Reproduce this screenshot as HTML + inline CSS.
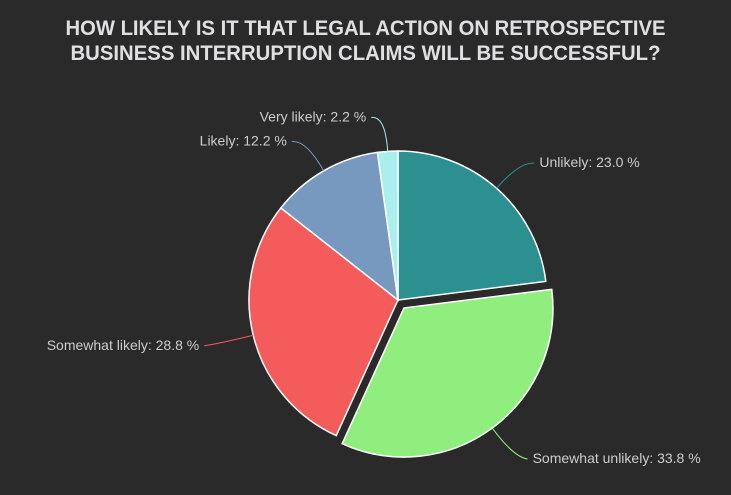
<!DOCTYPE html>
<html><head><meta charset="utf-8"><style>
html,body{margin:0;padding:0;background:#2a2a2b;}
svg{display:block;font-family:"Liberation Sans",sans-serif;}
</style></head><body>
<svg id="chart" width="731" height="495" viewBox="0 0 731 495">
<rect width="731" height="495" fill="#2a2a2b"/>
<text x="365.5" y="35" text-anchor="middle" fill="#E0E0E3" font-size="21" font-weight="bold" textLength="600" lengthAdjust="spacingAndGlyphs">HOW LIKELY IS IT THAT LEGAL ACTION ON RETROSPECTIVE</text>
<text x="365.5" y="60" text-anchor="middle" fill="#E0E0E3" font-size="21" font-weight="bold" textLength="590" lengthAdjust="spacingAndGlyphs">BUSINESS INTERRUPTION CLAIMS WILL BE SUCCESSFUL?</text>
<g id="slices"></g>
</svg>
<script>
const categories = ["Unlikely","Somewhat unlikely","Somewhat likely","Likely","Very likely"];
const values = [23.0,33.8,28.8,12.2,2.2];
const colors = ["#2b908f","#90ee7e","#f45b5b","#7798BF","#aaeeee"];
const exploded = [false,true,false,false,false];

const NS="http://www.w3.org/2000/svg";
const g=document.getElementById('slices');
const cx=398, cy=300, r=149, off=10;
const total=values.reduce((a,b)=>a+b,0);
let cum=0;
function pt(x,y,a,rad){return [x+rad*Math.sin(a), y-rad*Math.cos(a)];}
values.forEach((v,i)=>{
  const a0=cum/total*2*Math.PI; cum+=v; const a1=cum/total*2*Math.PI;
  const am=(a0+a1)/2;
  const dx=exploded[i]?off*Math.sin(am):0, dy=exploded[i]?-off*Math.cos(am):0;
  const x=cx+dx, y=cy+dy;
  const p0=pt(x,y,a0,r), p1=pt(x,y,a1,r);
  const large=(a1-a0)>Math.PI?1:0;
  const path=document.createElementNS(NS,'path');
  
  
  path.setAttribute('d',`M${x},${y}L${p0[0]},${p0[1]}A${r},${r} 0 ${large} 1 ${p1[0]},${p1[1]}Z`);
  path.setAttribute('fill',colors[i]);
  path.setAttribute('stroke','#ffffff');
  path.setAttribute('stroke-width','1.5');
  g.appendChild(path);
  const right=Math.sin(am)>=0;
  const e=pt(x,y,am,r), m=pt(x,y,am,r+36);
  const ex=m[0]+(right?14:-14), ey=m[1]+2;
  const c=document.createElementNS(NS,'path');
  
  
  c.setAttribute('d',`M${e[0]},${e[1]}Q${m[0]},${m[1]} ${ex},${ey}`);
  c.setAttribute('fill','none');
  c.setAttribute('stroke',colors[i]);
  c.setAttribute('stroke-width','1');
  g.appendChild(c);
  const t=document.createElementNS(NS,'text');
  
  
  t.setAttribute('x',ex+(right?5:-5));
  t.setAttribute('y',ey+4);
  t.setAttribute('text-anchor',right?'start':'end');
  t.setAttribute('fill','#cccccc');
  t.setAttribute('font-size','14');
  t.textContent=categories[i]+': '+v.toFixed(1)+' %';
  g.appendChild(t);
});
</script>
</body></html>
